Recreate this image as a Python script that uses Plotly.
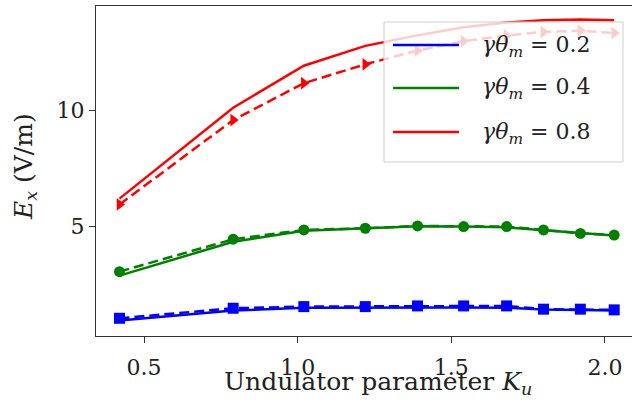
import plotly.graph_objects as go

K = [0.42, 0.79, 1.02, 1.22, 1.39, 1.54, 1.68, 1.80, 1.92, 2.03]

blue_solid = [0.97, 1.40, 1.52, 1.53, 1.54, 1.53, 1.52, 1.45, 1.42, 1.40]
blue_dash = [1.07, 1.50, 1.57, 1.57, 1.60, 1.60, 1.60, 1.46, 1.46, 1.43]
green_solid = [2.90, 4.35, 4.82, 4.92, 5.02, 5.00, 4.97, 4.84, 4.72, 4.62]
green_dash = [3.07, 4.46, 4.86, 4.93, 5.03, 5.00, 5.00, 4.86, 4.71, 4.64]
red_solid = [6.20, 10.10, 11.90, 12.75, 13.20, 13.55, 13.75, 13.85, 13.88, 13.85]
red_dash = [5.95, 9.57, 11.15, 11.96, 12.55, 12.95, 13.20, 13.35, 13.40, 13.30]

labels = ["<i>γθ</i><sub><i>m</i></sub> = 0.2",
          "<i>γθ</i><sub><i>m</i></sub> = 0.4",
          "<i>γθ</i><sub><i>m</i></sub> = 0.8"]
colors = ["#0000ff", "#008000", "#ff0000"]
symbols = ["square", "circle", "triangle-right"]

solids = [blue_solid, green_solid, red_solid]
dashes = [blue_dash, green_dash, red_dash]

FONT = "DejaVu Serif"

# plot-area pixel geometry (for placing the hand-drawn legend box)
L, R, T, B = 96, 632, 6, 336


def px(xpix):
    return (xpix - L) / (R - L)


def py(ypix):
    return (B - ypix) / (B - T)


fig = go.Figure()
for s, lab, c in zip(solids, labels, colors):
    fig.add_trace(go.Scatter(x=K, y=s, mode="lines", name=lab,
                             line=dict(color=c, width=2.5)))
for d, c, sym in zip(dashes, colors, symbols):
    fig.add_trace(go.Scatter(x=K, y=d, mode="lines+markers", showlegend=False,
                             line=dict(color=c, width=2.5, dash="10px,5px"),
                             marker=dict(color=c, size=11, symbol=sym)))

shapes = [dict(type="rect", xref="paper", yref="paper", layer="above",
               x0=px(384), x1=px(623), y0=py(162), y1=py(22),
               fillcolor="rgba(255,255,255,0.8)",
               line=dict(color="#d0d0d0", width=1))]
annotations = []
rows = [45, 88, 132]
for yrow, lab, c in zip(rows, labels, colors):
    shapes.append(dict(type="line", xref="paper", yref="paper", layer="above",
                       x0=px(393), x1=px(459), y0=py(yrow), y1=py(yrow),
                       line=dict(color=c, width=2.5)))
    annotations.append(dict(text=lab, xref="paper", yref="paper",
                            x=px(480), y=py(yrow + 1), xanchor="left",
                            yanchor="middle", showarrow=False,
                            font=dict(family=FONT, size=22, color="#222")))

annotations += [
    dict(text="Undulator parameter <i>K</i><sub><i>u</i></sub>",
         xref="paper", yref="paper", x=0.526, y=py(401),
         xanchor="center", yanchor="bottom", showarrow=False,
         font=dict(family=FONT, size=25, color="#222")),
    dict(text="<i>E</i><sub><i>x</i></sub> (V/m)",
         xref="paper", yref="paper", x=-0.1325, y=0.515,
         xanchor="center", yanchor="middle", showarrow=False, textangle=-90,
         font=dict(family=FONT, size=25, color="#222")),
]

fig.update_layout(
    width=632, height=402,
    margin=dict(l=L, r=632 - R, t=T, b=402 - B),
    plot_bgcolor="white", paper_bgcolor="white",
    font=dict(family=FONT, size=22, color="#222"),
    showlegend=False,
    xaxis=dict(range=[0.3436, 2.088], tickvals=[0.5, 1.0, 1.5, 2.0],
               ticktext=["0.5", "1.0", "1.5", "2.0"],
               showline=True, mirror=True, linecolor="#333", linewidth=1.2,
               ticks="outside", ticklen=6, tickcolor="#333", tickwidth=1.2,
               ticklabelstandoff=5,
               showgrid=False, zeroline=False),
    yaxis=dict(range=[0.31, 14.46], tickvals=[5, 10], ticktext=["5", "10"],
               showline=True, mirror=False, linecolor="#333", linewidth=1.2,
               ticks="outside", ticklen=6, tickcolor="#333", tickwidth=1.2,
               showgrid=False, zeroline=False),
    shapes=shapes,
    annotations=annotations,
)

fig.write_html("out.html")
